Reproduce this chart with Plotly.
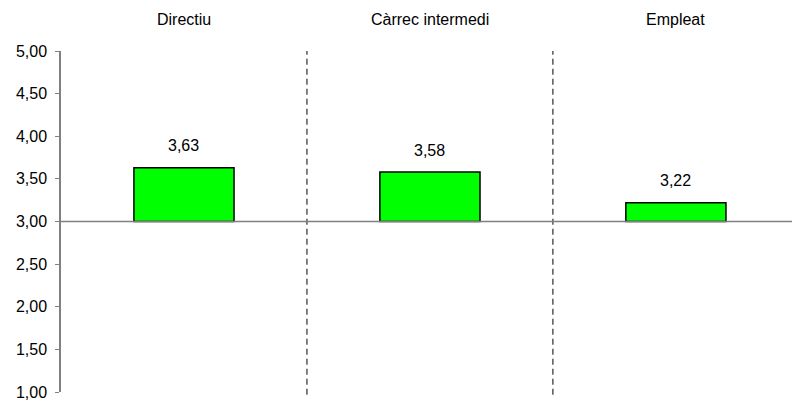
import plotly.graph_objects as go

# Mean scores by job category, drawn as bars from the 3,00 midpoint
categories = ["Directiu", "Càrrec intermedi", "Empleat"]
values = [3.63, 3.58, 3.22]
baseline = 3.0
y_ticks = [1.0, 1.5, 2.0, 2.5, 3.0, 3.5, 4.0, 4.5, 5.0]

FONT = "Liberation Sans, Arial, sans-serif"
FS = 16

x_pos = list(range(len(categories)))

fig = go.Figure()
fig.add_trace(go.Bar(
    x=x_pos,
    y=[v - baseline for v in values],
    base=[baseline] * len(values),
    width=0.407,
    marker=dict(color="#00FF00", line=dict(color="black", width=1.5)),
    hoverinfo="skip",
))

# Value labels above each bar
for xi, v in zip(x_pos, values):
    fig.add_annotation(
        x=xi, y=v, xref="x", yref="y",
        text=f"{v:.2f}".replace(".", ","),
        showarrow=False, yanchor="middle", yshift=22,
        font=dict(family=FONT, size=FS, color="black"),
    )

# Category titles along the top
for xi, name in zip(x_pos, categories):
    fig.add_annotation(
        x=xi, y=1.091, xref="x", yref="paper",
        text=name, showarrow=False, yanchor="middle",
        font=dict(family=FONT, size=FS, color="black"),
    )

# Dashed separators between categories
for sep in [0.5, 1.5]:
    fig.add_shape(
        type="line", xref="x", yref="paper",
        x0=sep, x1=sep, y0=-0.008, y1=1.0,
        line=dict(color="black", width=1, dash="6px,4px"),
    )

# Reference line at the midpoint of the scale
fig.add_shape(
    type="line", xref="paper", yref="y",
    x0=0, x1=1, y0=baseline, y1=baseline,
    line=dict(color="#808080", width=1.5),
)

fig.update_layout(
    width=792, height=402,
    margin=dict(l=61, r=0, t=51, b=10),
    paper_bgcolor="white", plot_bgcolor="white",
    separators=",.",
    showlegend=False,
    font=dict(family=FONT, size=FS, color="black"),
    xaxis=dict(
        range=[-0.5, 2.472], showticklabels=False, showgrid=False,
        zeroline=False, showline=False, ticks="",
    ),
    yaxis=dict(
        range=[1, 5], tickvals=y_ticks, tickformat=".2f",
        showgrid=False, zeroline=False,
        showline=True, linecolor="#808080", linewidth=1.5,
        ticks="outside", ticklen=4, tickcolor="#808080", tickwidth=1,
        tickfont=dict(family=FONT, size=FS, color="black"),
        ticklabelstandoff=5,
    ),
)

fig.write_html("out.html")
